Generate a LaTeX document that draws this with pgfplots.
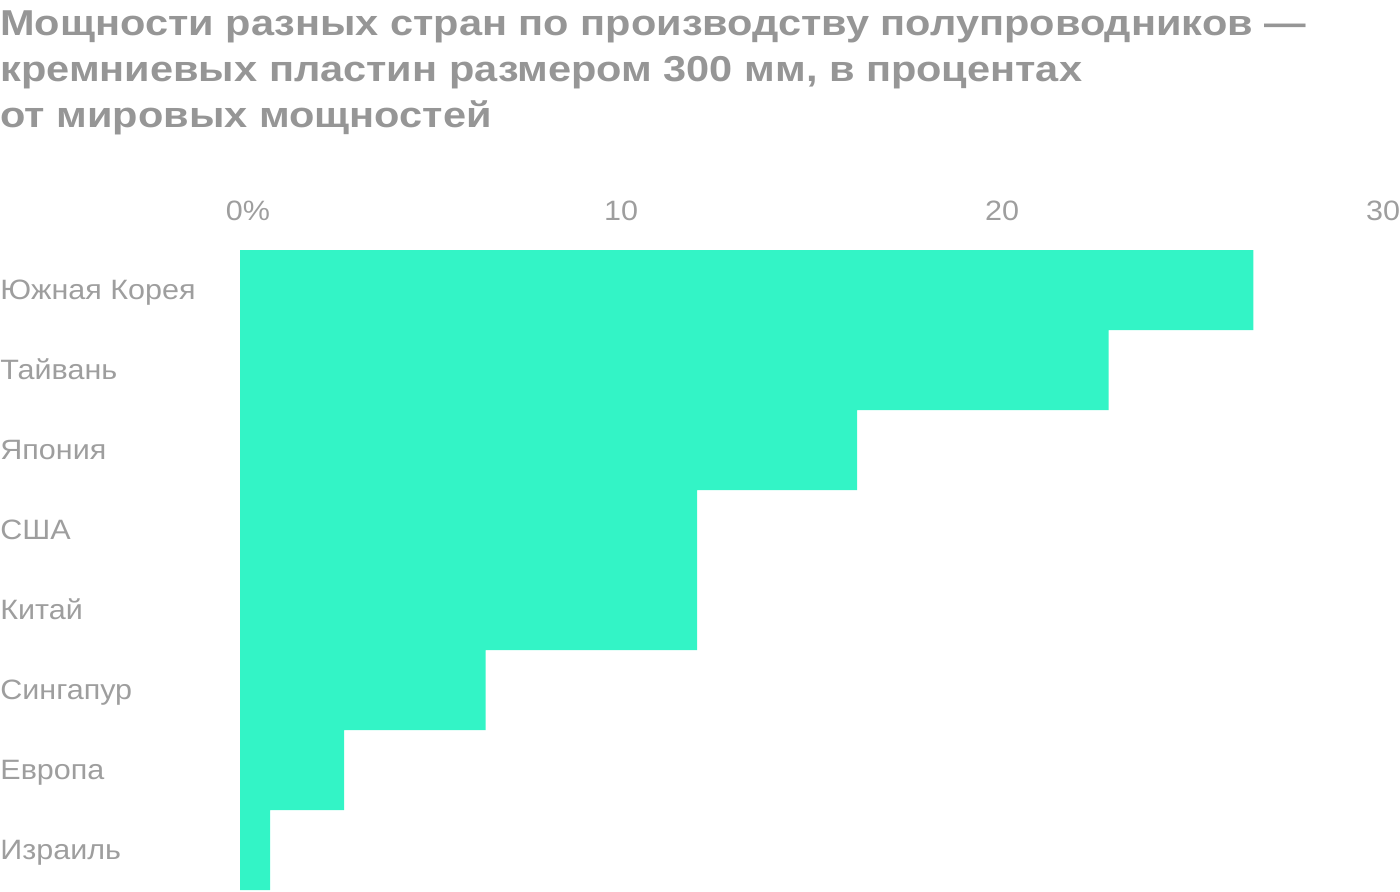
\documentclass[border=0pt]{standalone}
\usepackage{fontspec}
\setmainfont{Liberation Sans}
\newfontfamily\ttlfont{Liberation Sans}[FakeStretch=1.153]
\newfontfamily\lblfont{Liberation Sans}[FakeStretch=1.09]
\usepackage{pgfplots}
\pgfplotsset{compat=1.18}
\definecolor{barc}{RGB}{51,244,198}
\definecolor{ttl}{RGB}{150,150,150}
\definecolor{lbl}{RGB}{158,158,158}
\begin{document}
\begin{tikzpicture}
\useasboundingbox (0,0) rectangle (700pt,446pt);
\node[anchor=base west, inner sep=0, text=ttl, font=\ttlfont\fontsize{18}{22}\selectfont\bfseries] at (0,428pt) {Мощности разных стран по производству полупроводников —};
\node[anchor=base west, inner sep=0, text=ttl, font=\ttlfont\fontsize{18}{22}\selectfont\bfseries] at (0,405pt) {кремниевых пластин размером 300 мм, в процентах};
\node[anchor=base west, inner sep=0, text=ttl, font=\ttlfont\fontsize{18}{22}\selectfont\bfseries] at (0,382pt) {от мировых мощностей};
\begin{axis}[
  at={(120pt,1pt)}, anchor=south west,
  scale only axis, width=571.5pt, height=320pt,
  xmin=0, xmax=30, ymin=-0.5, ymax=7.5, y dir=reverse,
  xbar, bar width=40pt, bar shift=0pt,
  axis line style={draw=none}, tick style={draw=none},
  major tick length=0pt,
  xtick={0,10,20,30}, xticklabels={\hspace*{8pt}0\%,10,20,30},
  xticklabel pos=upper,
  xticklabel style={anchor=base, inner sep=0pt, yshift=15pt, text=lbl, font=\lblfont\fontsize{14}{16}\selectfont},
  ytick={0,1,2,3,4,5,6,7},
  yticklabels={Южная Корея,Тайвань,Япония,США,Китай,Сингапур,Европа,Израиль},
  yticklabel style={anchor=base west, inner sep=0pt, xshift=-120pt, yshift=-4.5pt, text=lbl, font=\lblfont\fontsize{14}{16}\selectfont},
  clip=false,
]
\addplot[fill=barc, draw=none] coordinates {
(26.6,0) (22.8,1) (16.2,2) (12.0,3) (12.0,4) (6.45,5) (2.73,6) (0.79,7)
};
\end{axis}
\end{tikzpicture}
\end{document}
